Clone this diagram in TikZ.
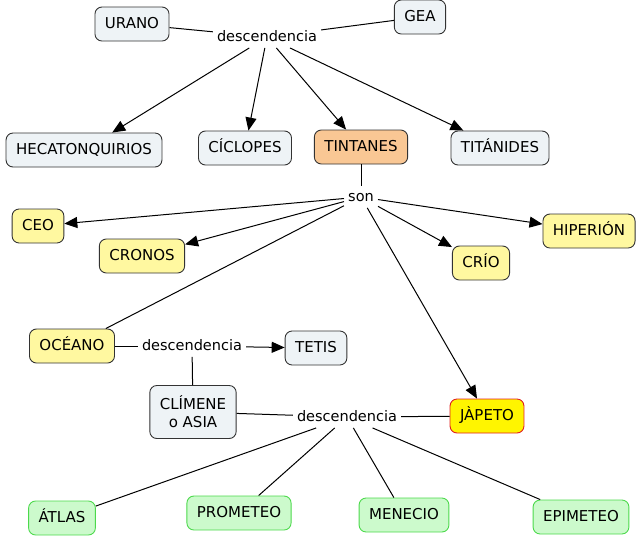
\documentclass[tikz,border=0pt]{standalone}
\usepackage{fontspec}
\setmainfont{DejaVu Sans}
\usetikzlibrary{arrows.meta}
\definecolor{gfill}{HTML}{EEF3F6}
\definecolor{yfill}{HTML}{FFF8A0}
\definecolor{grfill}{HTML}{CCFACC}
\definecolor{grdraw}{HTML}{4CD94C}
\definecolor{ofill}{HTML}{F9C794}
\definecolor{jfill}{HTML}{FFF500}
\definecolor{jdraw}{HTML}{E02020}
\begin{document}
\begin{tikzpicture}[x=1pt,y=-1pt,
  every node/.style={font=\fontsize{14.5}{17}\selectfont},
  box/.style={draw=black!80,line width=0.9pt,rounded corners=7pt,inner xsep=10pt,inner ysep=0pt,minimum height=34pt,text height=11pt,text depth=2.5pt,align=center,font=\fontsize{15}{18}\selectfont},
  gbox/.style={box,fill=gfill},
  ybox/.style={box,fill=yfill},
  grbox/.style={box,fill=grfill,draw=grdraw},
  obox/.style={box,fill=ofill},
  jbox/.style={box,fill=jfill,draw=jdraw},
  lbl/.style={inner sep=4pt,text height=11pt,text depth=2.5pt},
  conn/.style={draw=black,line width=1pt},
  arr/.style={conn,-{Triangle[length=13pt,width=11pt]}}]
\useasboundingbox (0,0) rectangle (640,539);
% nodes
\node[gbox] (urano) at (132,24) {URANO};
\node[gbox] (gea) at (420,17) {GEA};
\node[lbl] (d1) at (267,37) {descendencia};
\node[gbox] (hec) at (84,150) {HECATONQUIRIOS};
\node[gbox] (cic) at (245,148) {CÍCLOPES};
\node[obox] (tin) at (361,147) {TINTANES};
\node[gbox] (tit) at (500,148) {TITÁNIDES};
\node[lbl] (son) at (361,197) {son};
\node[ybox] (ceo) at (38,226) {CEO};
\node[ybox] (cro) at (142,256) {CRONOS};
\node[ybox] (cri) at (481,263) {CRÍO};
\node[ybox] (hip) at (589,231) {HIPERIÓN};
\node[ybox] (oce) at (72,346) {OCÉANO};
\node[lbl] (d2) at (192,346) {descendencia};
\node[gbox] (tet) at (316,348) {TETIS};
\node[gbox,minimum height=53pt,text height=,text depth=] (cli) at (193,412) {CLÍMENE\\o ASIA};
\node[lbl] (d3) at (347,417) {descendencia};
\node[jbox] (jap) at (487,416) {JÀPETO};
\node[grbox] (atl) at (62,518) {ÁTLAS};
\node[grbox] (pro) at (239,513) {PROMETEO};
\node[grbox] (men) at (404,515) {MENECIO};
\node[grbox] (epi) at (581,517) {EPIMETEO};
% connectors
\draw[conn] (urano) -- (d1);
\draw[conn] (gea) -- (d1);
\draw[arr] (d1) -- (hec);
\draw[arr] (d1) -- (cic);
\draw[arr] (d1) -- (tin);
\draw[arr] (d1) -- (tit);
\draw[conn] (tin) -- (son);
\draw[arr] (son) -- (ceo);
\draw[arr] (son) -- (cro);
\draw[arr] (son) -- (cri);
\draw[arr] (son) -- (hip);
\draw[arr] (son) -- (jap);
\draw[conn] (son) -- (oce);
\draw[conn] (oce) -- (d2);
\draw[arr] (d2) -- (tet);
\draw[conn] (d2) -- (cli);
\draw[conn] (cli) -- (d3);
\draw[conn] (jap) -- (d3);
\draw[conn] (d3) -- (atl);
\draw[conn] (d3) -- (pro);
\draw[conn] (d3) -- (men);
\draw[conn] (d3) -- (epi);
\end{tikzpicture}
\end{document}
